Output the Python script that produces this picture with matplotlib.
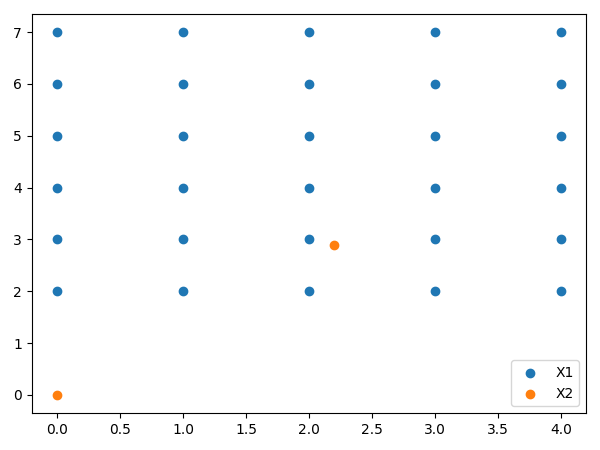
import numpy as np
import matplotlib
matplotlib.use('Agg')
import matplotlib.pyplot as plt

# Grid points for X1
x1_cols = [0, 1, 2, 3, 4]
x1_rows = [2, 3, 4, 5, 6, 7]
xx, yy = np.meshgrid(x1_cols, x1_rows)

# Two extra points for X2
x2_x = [0.0, 2.2]
x2_y = [0.0, 2.9]

fig, ax = plt.subplots(figsize=(6, 4.5), dpi=100)
ax.scatter(xx.ravel(), yy.ravel(), label='X1')
ax.scatter(x2_x, x2_y, label='X2')
ax.legend(loc='lower right')
fig.subplots_adjust(left=0.053, right=0.977, top=0.969, bottom=0.082)
fig.savefig('out.png')
